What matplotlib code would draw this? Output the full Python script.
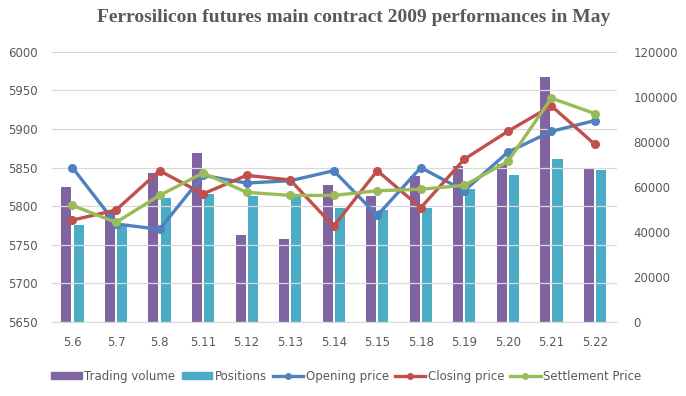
import numpy as np
import matplotlib
matplotlib.use("Agg")
import matplotlib.pyplot as plt
from matplotlib.lines import Line2D
from matplotlib.patches import Patch

# Data
days = ['5.6', '5.7', '5.8', '5.11', '5.12', '5.13', '5.14', '5.15', '5.18', '5.19', '5.20', '5.21', '5.22']
trading_volume = [60000, 49000, 66400, 75100, 38700, 36900, 60900, 56100, 65000, 69300, 70000, 108900, 68600]
positions = [43100, 43500, 55100, 56900, 56000, 55400, 50700, 49600, 50700, 59100, 65300, 72400, 67600]
opening_price = [5850, 5777, 5770, 5840, 5830, 5833, 5846, 5788, 5850, 5820, 5870, 5897, 5911]
closing_price = [5782, 5795, 5846, 5816, 5840, 5834, 5774, 5846, 5798, 5861, 5897, 5930, 5880]
settlement_price = [5801, 5779, 5814, 5843, 5818, 5814, 5814, 5820, 5822, 5827, 5858, 5940, 5920]

PURPLE = '#8064A2'
CYAN = '#4BACC6'
BLUE = '#4F81BD'
RED = '#C0504D'
GREEN = '#9BBB59'
TXT = '#595959'
GRID = '#D9D9D9'

fig = plt.figure(figsize=(6.86, 3.96), dpi=100)
ax = fig.add_axes([0.0758, 0.187, 0.8232, 0.682])
ax2 = ax.twinx()

x = np.arange(len(days))
w = 0.23

# bars on the secondary axis, drawn behind the price lines
ax2.bar(x - 0.14, trading_volume, width=w, color=PURPLE, zorder=2)
ax2.bar(x + 0.14, positions, width=w, color=CYAN, zorder=2)
ax2.set_ylim(0, 120000)
ax2.set_yticks(range(0, 120001, 20000))

ax.set_zorder(ax2.get_zorder() + 1)
ax.patch.set_visible(False)

for vals, c in [(opening_price, BLUE), (closing_price, RED), (settlement_price, GREEN)]:
    ax.plot(x, vals, color=c, lw=2.4, marker='o', ms=5.5, solid_capstyle='round', zorder=3)

ax.set_ylim(5650, 6000)
ax.set_yticks(range(5650, 6001, 50))
ax.set_xlim(-0.47, 12.5)
ax.set_xticks(x)
ax.set_xticklabels(days)

ax.grid(axis='y', color=GRID, lw=0.9)
ax.set_axisbelow(True)
for a in (ax, ax2):
    for s in a.spines.values():
        s.set_visible(False)
    a.tick_params(length=0, colors=TXT, labelsize=8.5)
ax.spines['bottom'].set_visible(True)
ax.spines['bottom'].set_color(GRID)
ax.tick_params(axis='x', pad=10)
ax.tick_params(axis='y', pad=10)
ax2.tick_params(axis='y', pad=12)

fig.text(0.515, 0.955, 'Ferrosilicon futures main contract 2009 performances in May',
         ha='center', va='center', fontsize=14, fontweight='bold',
         family='Liberation Serif', color=TXT)

handles = [
    Patch(color=PURPLE, label='Trading volume'),
    Patch(color=CYAN, label='Positions'),
    Line2D([], [], color=BLUE, lw=2.4, marker='o', ms=4, label='Opening price'),
    Line2D([], [], color=RED, lw=2.4, marker='o', ms=4, label='Closing price'),
    Line2D([], [], color=GREEN, lw=2.4, marker='o', ms=4, label='Settlement Price'),
]
leg = fig.legend(handles=handles, loc='center', bbox_to_anchor=(0.505, 0.05), ncol=5,
                 frameon=False, fontsize=8.5, handlelength=2.6, handleheight=0.6,
                 columnspacing=0.5, handletextpad=0.2)
for t in leg.get_texts():
    t.set_color(TXT)

fig.savefig('out.png', dpi=100)
